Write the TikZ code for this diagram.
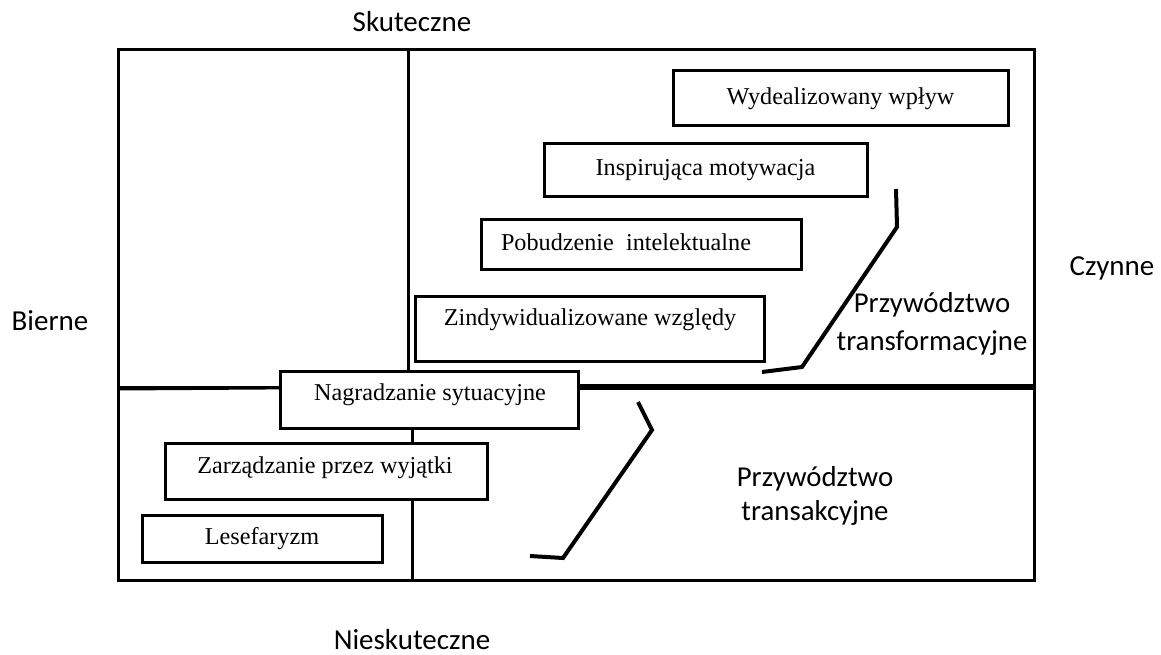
\documentclass[tikz,border=0pt]{standalone}
\usepackage{fontspec}
\setmainfont{Liberation Serif}
\newfontfamily\carlfont{Carlito}
\begin{document}
\begin{tikzpicture}[x=1pt,y=-1pt,
  frameline/.style={line width=3pt},
  box/.style={draw,line width=3pt,fill=white,inner sep=0pt,font=\fontsize{24.2}{28}\selectfont},
  boxtext/.style={inner sep=0pt,font=\fontsize{24.2}{28}\selectfont},
  axis/.style={inner sep=0pt,font=\carlfont\fontsize{29}{34}\selectfont},
  region/.style={inner sep=0pt,align=center,font=\carlfont\fontsize{28.8}{38}\selectfont},
  bracket/.style={line width=4pt,line join=miter}]
\useasboundingbox (0,0) rectangle (1161,655);
% frame
\coordinate (ul) at (118,50);
\coordinate (ur) at (1034,50);
\coordinate (ml) at (118,389);
\coordinate (mr) at (1034,387);
\coordinate (bl) at (118,580);
\coordinate (br) at (1034,580);
\coordinate (vt) at (408,50);
\coordinate (vm) at (408,387);
\coordinate (lt) at (412,387);
\coordinate (lb) at (412,580);
\coordinate (mt) at (578,387);
\draw[frameline] (ul) rectangle (mr);
\draw[frameline] (vt) -- (vm);
\draw[frameline] (ml) -- (bl) -- (br) -- (mr);
\draw[frameline] (ml) -- (lt);
\draw[frameline] (lt) -- (lb);
\draw[line width=6pt] (mt) -- (mr);
% boxes
\node[box,minimum width=335pt,minimum height=55pt] (wyd) at (840.5,98.5) {Wydealizowany wpływ};
\node[box,minimum width=323pt,minimum height=53pt] (ins) at (705.5,170.5) {Inspirująca motywacja};
\node[box,minimum width=320pt,minimum height=50pt] (pob) at (641,244) {};
\node[boxtext] (pobt) at (626,242) {Pobudzenie\ \ intelektualne};
\node[box,minimum width=349pt,minimum height=65pt] (zin) at (589.5,328.5) {};
\node[boxtext] (zint) at (590,320) {Zindywidualizowane względy};
\node[box,minimum width=298pt,minimum height=57pt] (nag) at (429,399.5) {};
\node[boxtext] (nagt) at (430,395) {Nagradzanie sytuacyjne};
\node[box,minimum width=322pt,minimum height=56pt] (zar) at (326,471) {};
\node[boxtext] (zart) at (325,468) {Zarządzanie przez wyjątki};
\node[box,minimum width=240pt,minimum height=47pt] (les) at (262,538.5) {Lesefaryzm};
% brackets
\coordinate (b1a) at (896,189);
\coordinate (b1b) at (897,227);
\coordinate (b1c) at (802,367);
\coordinate (b1d) at (762,372);
\draw[bracket] (b1a) -- (b1b) -- (b1c) -- (b1d);
\coordinate (b2a) at (638,402);
\coordinate (b2b) at (652,430);
\coordinate (b2c) at (563,558);
\coordinate (b2d) at (530,556);
\draw[bracket] (b2a) -- (b2b) -- (b2c) -- (b2d);
% labels
\node[axis] (sk) at (412,22) {Skuteczne};
\node[axis] (ni) at (412,640) {Nieskuteczne};
\node[axis] (bi) at (50,321) {Bierne};
\node[axis] (cz) at (1112,268) {Czynne};
\node[region] (trf) at (932,324) {Przywództwo\\transformacyjne};
\node[region,font=\carlfont\fontsize{28.8}{34}\selectfont] (trs) at (815,496) {Przywództwo\\transakcyjne};
\end{tikzpicture}
\end{document}
